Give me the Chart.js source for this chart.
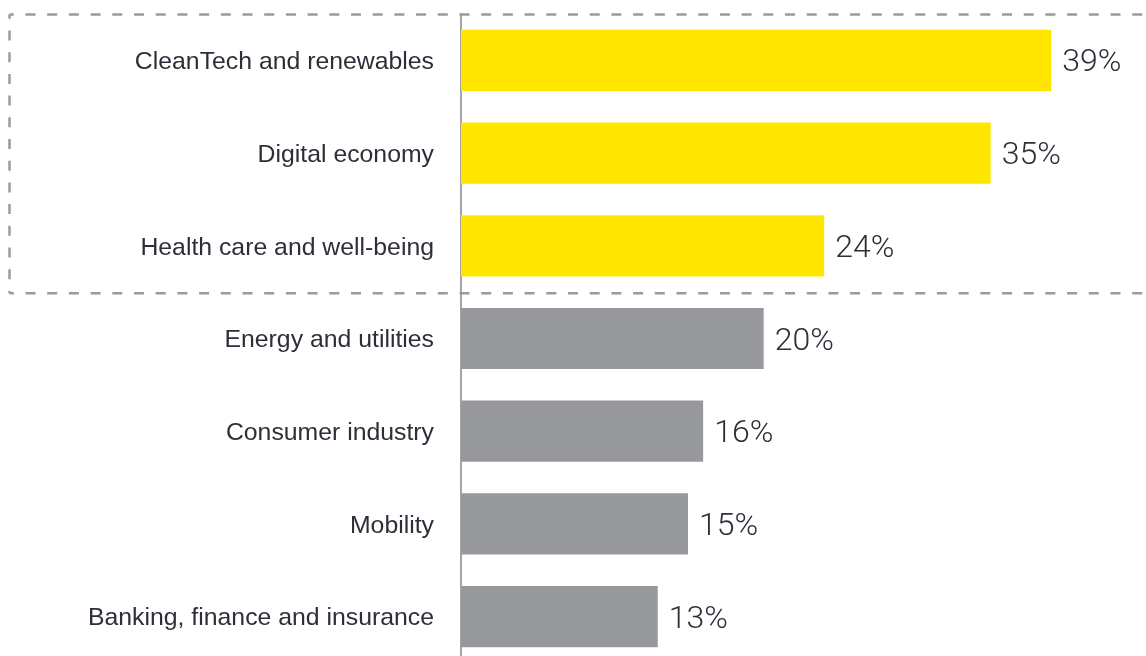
<html>
	<head>
		<script src="https://cdn.jsdelivr.net/npm/chart.js@4.4.1/dist/chart.umd.min.js"></script>
		<style>
			body { margin: 0; overflow: hidden; background: #fff; }
		</style>
	</head>
	<body>
		<canvas id="myChart" width="1146" height="663"></canvas>
		<script>
			var sectors = ["CleanTech and renewables", "Digital economy", "Health care and well-being",
				"Energy and utilities", "Consumer industry", "Mobility", "Banking, finance and insurance"];
			var shares = [39, 35, 24, 20, 16, 15, 13];
			var highlighted = 3; // first three sectors sit in the dashed box

			var color = {yellow: "#FFE600", grey: "#97989C", text: "#2E2E38", line: "#A3A3A8", dash: "#9A9AA0"};

			var barColors = [];
			for (var i = 0; i < shares.length; i++) {
				barColors.push(i < highlighted ? color.yellow : color.grey);
			}

			// value text after each bar
			var valueLabels = {
				id: "valueLabels",
				afterDatasetsDraw: function(chart) {
					var ctx = chart.ctx;
					var meta = chart.getDatasetMeta(0);
					ctx.save();
					ctx.font = "300 32px Roboto, 'DejaVu Sans Condensed', sans-serif";
					ctx.fillStyle = color.text;
					ctx.textAlign = "left";
					ctx.textBaseline = "middle";
					meta.data.forEach(function(bar, i) {
						ctx.fillText(shares[i] + "%", bar.x + 11, bar.y + 3);
					});
					ctx.restore();
				}
			};

			// dashed frame round the highlighted group
			var dashedBox = {
				id: "dashedBox",
				afterDraw: function(chart) {
					var ctx = chart.ctx;
					var y = chart.scales.y;
					var top = chart.chartArea.top + 0.5;
					var bottom = y.getPixelForValue(highlighted - 0.5) + 1;
					var left = 9.5;
					ctx.save();
					ctx.strokeStyle = color.dash;
					ctx.lineWidth = 2.5;
					ctx.setLineDash([10, 11.7]);
					ctx.lineDashOffset = 5.7;
					ctx.beginPath();
					ctx.moveTo(left, top);
					ctx.lineTo(chart.width, top);
					ctx.moveTo(left, bottom);
					ctx.lineTo(chart.width, bottom);
					ctx.moveTo(left, top);
					ctx.lineTo(left, bottom);
					ctx.stroke();
					ctx.restore();
				}
			};

			var ctx = document.getElementById("myChart").getContext("2d");
			new Chart(ctx, {
				type: "bar",
				data: {
					labels: sectors,
					datasets: [{
						data: shares,
						backgroundColor: barColors,
						borderWidth: 0,
						barPercentage: 0.66,
						categoryPercentage: 1.0
					}]
				},
				options: {
					indexAxis: "y",
					responsive: false,
					animation: false,
					layout: {padding: {top: 14, right: 4, bottom: 0, left: 0}},
					plugins: {
						legend: {display: false},
						tooltip: {enabled: false}
					},
					scales: {
						x: {
							display: false,
							min: 0,
							max: 45
						},
						y: {
							grid: {display: false, drawTicks: false},
							border: {display: true, color: color.line, width: 2},
							ticks: {
								color: color.text,
								padding: 27,
								labelOffset: 2,
								font: {family: "'Liberation Sans', Arial, sans-serif", size: 24.8}
							},
							afterFit: function(scale) {
								scale.width = 461;
								// no extra room above/below for the labels
								scale.paddingTop = 0;
								scale.paddingBottom = 0;
							}
						}
					}
				},
				plugins: [valueLabels, dashedBox]
			});
		</script>
	</body>
</html>
